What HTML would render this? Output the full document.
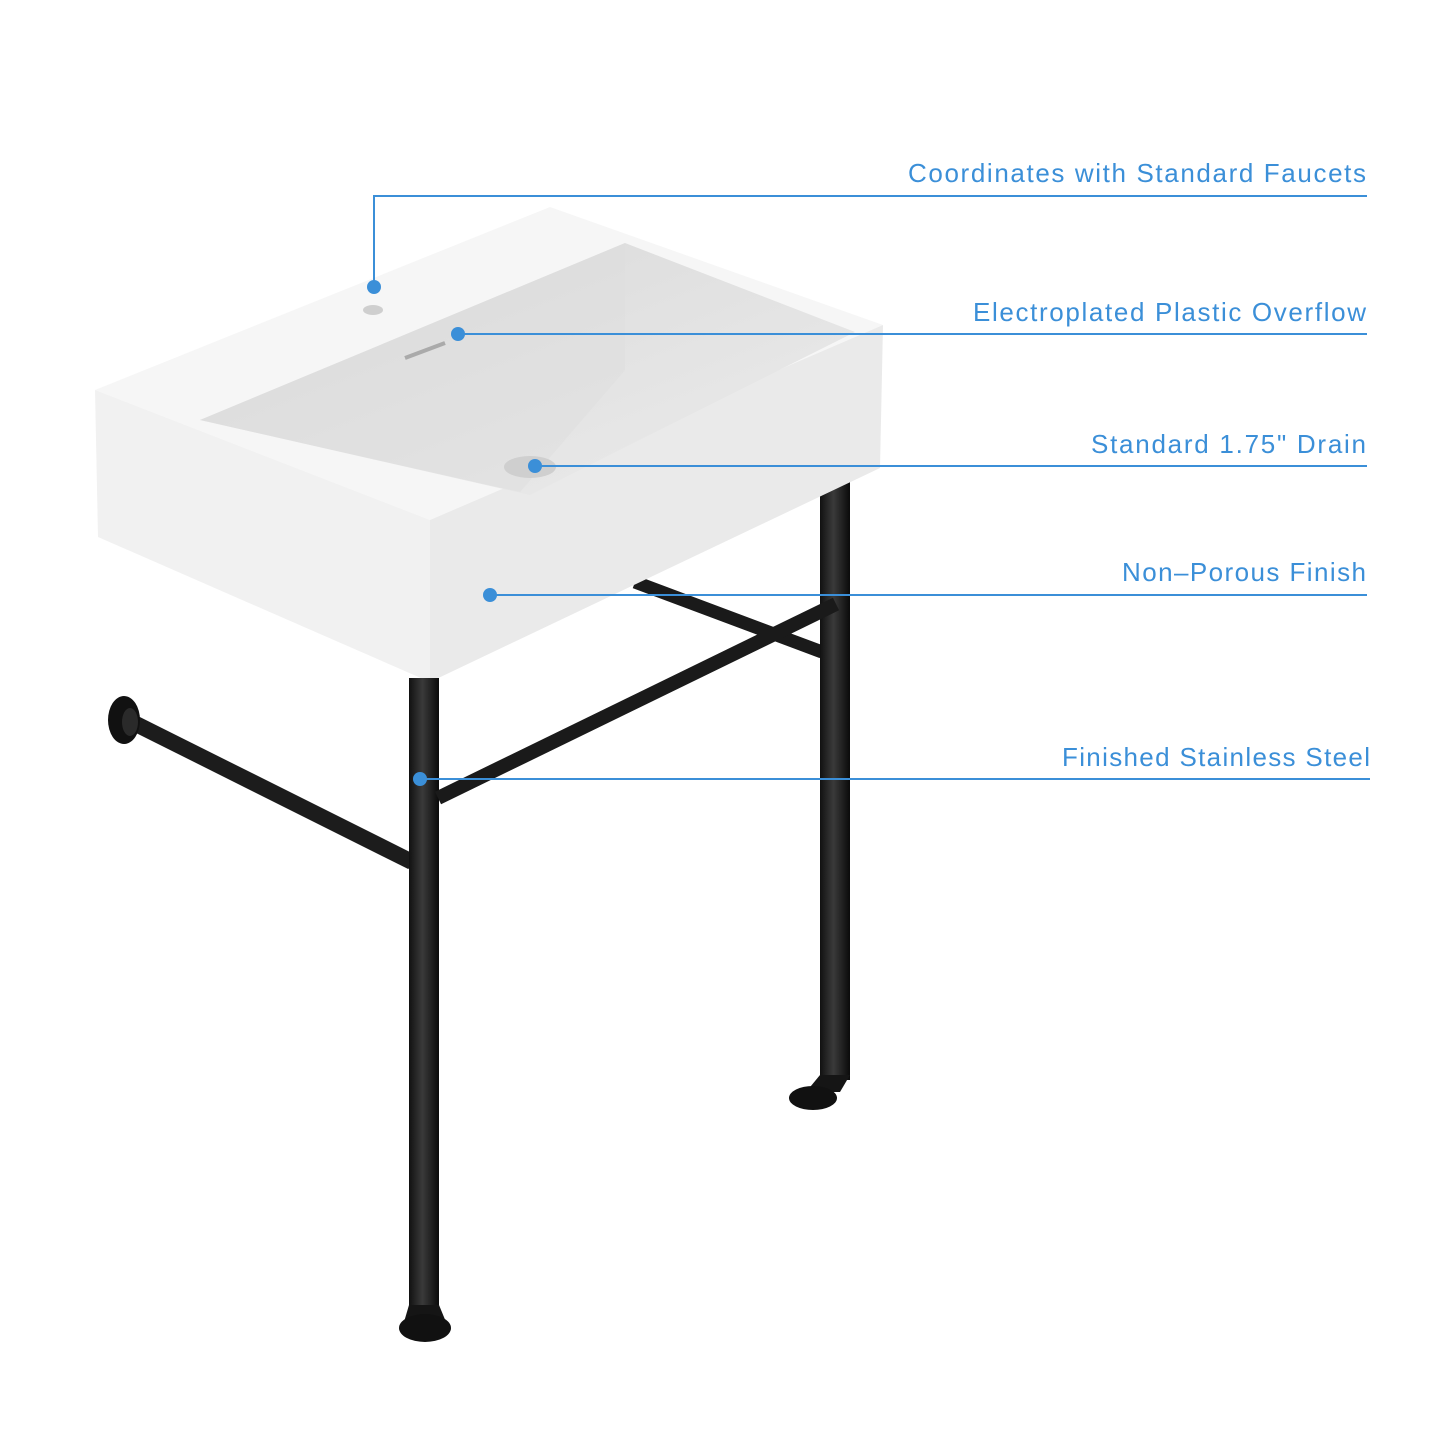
<!DOCTYPE html>
<html><head><style>
html,body{margin:0;padding:0;background:#fff;}
svg{display:block;}
text{font-family:"Liberation Sans",sans-serif;font-size:26px;fill:#3b8fd8;}
</style></head><body>
<svg width="1445" height="1445" viewBox="0 0 1445 1445" xmlns="http://www.w3.org/2000/svg">
<defs>
<linearGradient id="leg" x1="0" x2="1"><stop offset="0" stop-color="#111"/><stop offset="0.45" stop-color="#3a3a3a"/><stop offset="1" stop-color="#0a0a0a"/></linearGradient>
<linearGradient id="basin" x1="0" y1="0" x2="1" y2="1"><stop offset="0" stop-color="#d8d8d8"/><stop offset="1" stop-color="#ececec"/></linearGradient>
</defs>
<rect width="1445" height="1445" fill="#fff"/>
<line x1="635" y1="582" x2="822" y2="652" stroke="#1a1a1a" stroke-width="13"/>
<rect x="820" y="480" width="30" height="600" fill="url(#leg)"/>
<polygon points="820,1075 850,1075 840,1092 806,1092" fill="#151515"/>
<ellipse cx="813" cy="1098" rx="24" ry="12" fill="#111"/>
<line x1="124" y1="718" x2="412" y2="862" stroke="#1c1c1c" stroke-width="16"/>
<ellipse cx="124" cy="720" rx="16" ry="24" fill="#111"/>
<ellipse cx="130" cy="722" rx="8" ry="14" fill="#2a2a2a"/>
<polygon points="95,390 550,207 883,325 430,520" fill="#f6f6f6"/>
<polygon points="95,390 430,520 430,682 98,537" fill="#f1f1f1"/>
<polygon points="430,520 883,325 880,468 430,682" fill="#eaeaea"/>
<polygon points="200,420 625,243 855,332 530,495" fill="url(#basin)"/>
<polygon points="200,420 625,243 625,370 520,492" fill="#dedede" opacity="0.5"/>
<ellipse cx="373" cy="310" rx="10" ry="5" fill="#cfcfcf"/>
<line x1="405" y1="358" x2="445" y2="343" stroke="#aaa" stroke-width="4"/>
<ellipse cx="530" cy="467" rx="26" ry="11" fill="#cfcfcf"/>
<rect x="409" y="678" width="30" height="632" fill="url(#leg)"/>
<polygon points="409,1305 439,1305 446,1322 404,1322" fill="#151515"/>
<ellipse cx="425" cy="1328" rx="26" ry="14" fill="#111"/>
<line x1="438" y1="798" x2="836" y2="604" stroke="#1a1a1a" stroke-width="14"/>
<g stroke="#3b8fd8" stroke-width="2" fill="none">
<polyline points="374,287 374,196 1367,196"/>
<line x1="458" y1="334" x2="1367" y2="334"/>
<line x1="535" y1="466" x2="1367" y2="466"/>
<line x1="490" y1="595" x2="1367" y2="595"/>
<line x1="420" y1="779" x2="1370" y2="779"/>
</g>
<g fill="#3b8fd8">
<circle cx="374" cy="287" r="7"/>
<circle cx="458" cy="334" r="7"/>
<circle cx="535" cy="466" r="7"/>
<circle cx="490" cy="595" r="7"/>
<circle cx="420" cy="779" r="7"/>
</g>
<text x="908" y="182" textLength="458" lengthAdjust="spacing">Coordinates with Standard Faucets</text>
<text x="973" y="321" textLength="393" lengthAdjust="spacing">Electroplated Plastic Overflow</text>
<text x="1091" y="453" textLength="275" lengthAdjust="spacing">Standard 1.75" Drain</text>
<text x="1122" y="581" textLength="244" lengthAdjust="spacing">Non–Porous Finish</text>
<text x="1062" y="766" textLength="308" lengthAdjust="spacing">Finished Stainless Steel</text>
</svg>
</body></html>
